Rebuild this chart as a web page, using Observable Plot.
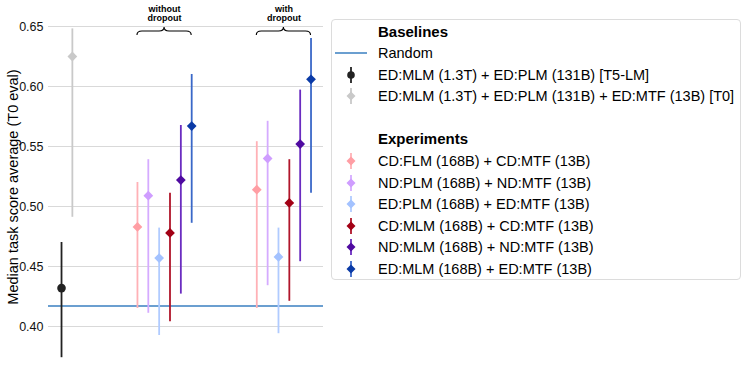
<!DOCTYPE html>
<html>
<head>
<meta charset="utf-8">
<script src="https://cdn.jsdelivr.net/npm/d3@7"></script>
<script src="https://cdn.jsdelivr.net/npm/@observablehq/plot@0.6"></script>
<style>
  html, body { margin: 0; padding: 0; background: #fff; }
  body { font-family: "Liberation Sans", Arial, Helvetica, sans-serif; }
  #wrap { position: relative; width: 748px; height: 380px; overflow: hidden; }
  #chart { position: absolute; left: 0; top: 0; }
  #ylabel { position: absolute; left: 13px; top: 187px; transform-origin: 0 0;
            transform: rotate(-90deg) translate(-50%, -50%);
            white-space: nowrap; font-size: 14.5px; line-height: 16px; color: #000; }
  #legend { position: absolute; left: 331px; top: 19px; width: 410px; height: 261px;
            border: 1px solid #dcdcdc; border-radius: 4px; box-sizing: border-box; }
  .lg { position: absolute; left: 46px; font-size: 14.5px; color: #000; white-space: nowrap; transform: translateY(-50%); }
  .lg.h { font-weight: bold; font-size: 15px; }
  .lk { position: absolute; transform: translate(-50%, -50%); }
</style>
</head>
<body>
<div id="wrap">
  <div id="chart"></div>
  <div id="ylabel"></div>
  <div id="legend"></div>
</div>
<script>
// ---- data ----
const yTicks = [0.40, 0.45, 0.50, 0.55, 0.60, 0.65];
const randomBaseline = 0.417;

const baselineNames = [
  "ED:MLM (1.3T) + ED:PLM (131B) [T5-LM]",
  "ED:MLM (1.3T) + ED:PLM (131B) + ED:MTF (13B) [T0]"
];
const baselineMedian = [0.432, 0.625];
const baselineLow = [0.374, 0.491];
const baselineHigh = [0.470, 0.648];

const experimentNames = [
  "CD:FLM (168B) + CD:MTF (13B)",
  "ND:PLM (168B) + ND:MTF (13B)",
  "ED:PLM (168B) + ED:MTF (13B)",
  "CD:MLM (168B) + CD:MTF (13B)",
  "ND:MLM (168B) + ND:MTF (13B)",
  "ED:MLM (168B) + ED:MTF (13B)"
];
const groupNames = ["without\ndropout", "with\ndropout"];
const medianWithout = [0.483, 0.509, 0.457, 0.478, 0.522, 0.567];
const lowWithout    = [0.415, 0.411, 0.3925, 0.404, 0.427, 0.486];
const highWithout   = [0.520, 0.539, 0.482, 0.511, 0.5675, 0.610];
const medianWith = [0.514, 0.540, 0.458, 0.503, 0.552, 0.606];
const lowWith    = [0.415, 0.434, 0.394, 0.421, 0.454, 0.511];
const highWith   = [0.554, 0.571, 0.482, 0.539, 0.597, 0.640];

// ---- styles ----
const baselineColors = ["#222222", "#c9c9c9"];
const experimentDotColors  = ["#ff9ea4", "#cf9dff", "#a3c2ff", "#a20015", "#4f0aa0", "#0a3aa6"];
const experimentLineColors = ["#ffb1b6", "#d5abff", "#b0cbff", "#b0152a", "#6a2cc0", "#3a68c8"];
const randomColor = "#3a7fc0";

// ---- layout of slots (category order) ----
const groupStart = [7, 18];
const rows = [];
baselineNames.forEach((n, i) => rows.push({
  name: n, pos: i, med: baselineMedian[i], lo: baselineLow[i], hi: baselineHigh[i],
  dot: baselineColors[i], line: baselineColors[i], sym: i === 0 ? "circle" : "diamond2"
}));
[[medianWithout, lowWithout, highWithout], [medianWith, lowWith, highWith]].forEach(([m, lo, hi], g) => {
  experimentNames.forEach((n, i) => rows.push({
    name: n, pos: groupStart[g] + i, med: m[i], lo: lo[i], hi: hi[i],
    dot: experimentDotColors[i], line: experimentLineColors[i], sym: "diamond2"
  }));
});
const groups = groupNames.map((t, g) => ({
  text: t, x1: groupStart[g], x2: groupStart[g] + experimentNames.length - 1,
  mid: groupStart[g] + (experimentNames.length - 1) / 2
}));

function braces(index, scales, values, dimensions) {
  const g = d3.create("svg:g").attr("fill", "none").attr("stroke", "#000").attr("stroke-width", 1.1);
  const yb = scales.y(0.65) + 5;
  for (const d of groups) {
    const a = scales.x(d.x1), b = scales.x(d.x2), m = scales.x(d.mid);
    const h = 4;
    const p = `M${a},${yb + h} Q${a},${yb} ${a + 5},${yb} L${m - 5},${yb} Q${m},${yb} ${m},${yb - h}` +
              ` Q${m},${yb} ${m + 5},${yb} L${b - 5},${yb} Q${b},${yb} ${b},${yb + h}`;
    g.append("path").attr("d", p);
  }
  return g.node();
}

const chart = Plot.plot({
  width: 330,
  height: 380,
  marginLeft: 48,
  marginRight: 7,
  marginTop: 26,
  marginBottom: 0,
  style: { fontFamily: "Liberation Sans, Arial, sans-serif", background: "transparent" },
  x: { domain: [-1.2, 24.15], axis: null },
  y: { domain: [0.355, 0.65] },
  marks: [
    Plot.gridY(yTicks, { stroke: "#d9d9d9", strokeOpacity: 1, strokeWidth: 1 }),
    Plot.axisY(yTicks, { tickSize: 0, tickPadding: 5, tickFormat: d3.format(".2f"), fontSize: 12.5, label: null, color: "#111" }),
    Plot.ruleY([randomBaseline], { stroke: randomColor, strokeWidth: 1.5 }),
    Plot.ruleX(rows, { x: "pos", y1: "lo", y2: "hi", stroke: d => d.line, strokeWidth: 1.8 }),
    Plot.dot(rows.filter(d => d.sym === "circle"), { x: "pos", y: "med", symbol: "circle", r: 4.3, fill: d => d.dot, stroke: "none" }),
    Plot.dot(rows.filter(d => d.sym === "diamond2"), { x: "pos", y: "med", symbol: "diamond2", r: 4.4, fill: d => d.dot, stroke: "none" }),
    Plot.text(groups, { x: "mid", y: () => 0.65, text: "text", dy: -13, fontSize: 9, fontWeight: "bold", lineHeight: 1.0, lineAnchor: "middle", fill: "#000" }),
    braces
  ]
});
document.getElementById("chart").appendChild(chart);

document.getElementById("ylabel").textContent = "Median task score average (T0 eval)";

// ---- legend ----
const legend = document.getElementById("legend");
function addText(txt, y, head) {
  const d = document.createElement("div");
  d.className = "lg" + (head ? " h" : "");
  d.style.top = y + "px";
  d.textContent = txt;
  legend.appendChild(d);
}
function addKey(y, kind, color, lineColor) {
  const ns = "http://www.w3.org/2000/svg";
  const s = document.createElementNS(ns, "svg");
  s.setAttribute("class", "lk");
  s.setAttribute("width", 36); s.setAttribute("height", 20);
  s.style.left = "19px";
  s.style.top = y + "px";
  if (kind === "line") {
    s.innerHTML = `<line x1="2" x2="34" y1="10" y2="10" stroke="${color}" stroke-width="1.5"/>`;
  } else {
    const mk = kind === "circle"
      ? `<circle cx="18" cy="10" r="3.8" fill="${color}"/>`
      : `<path d="M18,5.5 L22.5,10 L18,14.5 L13.5,10 Z" fill="${color}"/>`;
    s.innerHTML = `<line x1="18" x2="18" y1="2" y2="18" stroke="${lineColor}" stroke-width="1.8"/>` + mk;
  }
  legend.appendChild(s);
}
addText("Baselines", 11, true);
addKey(32.5, "line", randomColor);
addText("Random", 32.5);
baselineNames.forEach((n, i) => {
  const y = 54.5 + i * 21.5;
  addKey(y, i === 0 ? "circle" : "diamond", baselineColors[i], baselineColors[i]);
  addText(n, y);
});
addText("Experiments", 117.5, true);
experimentNames.forEach((n, i) => {
  const y = 141 + i * 21.5;
  addKey(y, "diamond", experimentDotColors[i], experimentLineColors[i]);
  addText(n, y);
});
</script>
</body>
</html>
